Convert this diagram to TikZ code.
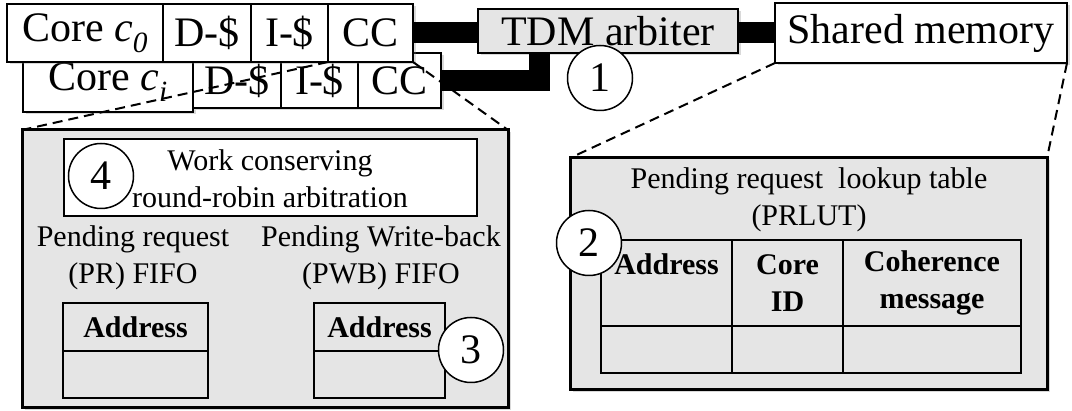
\documentclass[tikz,border=0pt]{standalone}
\usepackage{fontspec}
\setmainfont{Liberation Serif}
\usepackage{tikz}
\usetikzlibrary{positioning,calc,shadows}
\newcommand{\topsz}{\fontsize{42}{46}\selectfont}
\newcommand{\midsz}{\fontsize{30}{37}\selectfont}
\tikzset{shd/.style={drop shadow={shadow xshift=2.5pt, shadow yshift=-2.5pt, opacity=0.3}}}
\tikzset{blk/.style={draw, line width=2pt, fill=white, inner sep=0pt, outer sep=0pt, font=\topsz, shd}}
\tikzset{panel/.style={draw, line width=3pt, fill=black!10, inner sep=0pt, outer sep=0pt, shd}}
\tikzset{tcell/.style={draw, line width=1.5pt, inner sep=0pt, outer sep=0pt, align=center, font=\midsz\bfseries}}
\tikzset{lbl/.style={inner sep=0pt, align=center, font=\midsz}}
\tikzset{badge/.style={circle, draw, line width=1.5pt, fill=white, minimum size=65pt, inner sep=0pt, font=\topsz}}
\tikzset{bus/.style={draw, line width=21pt}}
\tikzset{zoomln/.style={draw, line width=2pt, dash pattern=on 10pt off 6pt}}

\begin{document}
\begin{tikzpicture}[x=1pt, y=-1pt]
	\useasboundingbox (0,0) rectangle (1072,411);
	% core c_i (behind)
	\node[blk, minimum width=170pt, minimum height=59pt] (corei) at (108,82.5) {Core \textit{c\textsubscript{i}}};
	\node[blk, minimum width=88pt, minimum height=55pt, anchor=north west] (dci) at (corei.north east) {D-\$};
	\node[blk, minimum width=77pt, minimum height=55pt, right=0pt of dci] (ici) {I-\$};
	\node[blk, minimum width=83pt, minimum height=55pt, right=0pt of ici] (cci) {CC};
	% core c_0
	\node[blk, minimum width=156pt, minimum height=58pt] (core0) at (85,33) {Core \textit{c\textsubscript{0}}};
	\node[blk, minimum width=88pt, minimum height=58pt, right=0pt of core0] (dc0) {D-\$};
	\node[blk, minimum width=77pt, minimum height=58pt, right=0pt of dc0] (ic0) {I-\$};
	\node[blk, minimum width=85pt, minimum height=58pt, right=0pt of ic0] (cc0) {CC};
	\node[blk, fill=black!10, minimum width=260pt, minimum height=44pt] (tdm) at (608,31) {TDM arbiter};
	\node[blk, minimum width=292pt, minimum height=60pt] (mem) at (921,33) {Shared memory};
	\draw[bus] (cc0.east) -- (cc0.east -| tdm.west);
	\draw[bus] (tdm.east |- mem.west) -- (mem.west);
	\coordinate (tap) at ($(tdm.south west)+(61,0)$);
	\draw[bus] (cci.east) -| (tap);
	\node[badge] (n1) at (600,78) {1};
	% zoomed views
	\node[panel, minimum width=486pt, minimum height=278pt] (ccbox) at (265,269) {};
	\node[panel, minimum width=477pt, minimum height=232pt] (lutbox) at (808.5,274) {};
	\draw[zoomln] (cc0.south west) -- (ccbox.north west);
	\draw[zoomln] (cc0.south east) -- (ccbox.north east);
	\draw[zoomln] (mem.south west) -- (lutbox.north west);
	\draw[zoomln] (mem.south east) -- (lutbox.north east);
	% cache controller
	\node[draw, line width=2pt, fill=white, inner sep=0pt, minimum width=413pt, minimum height=77pt] (wcrr) at (270.5,177.5) {};
	\node[badge] (n4) at (101,176) {4};
	\node[lbl] (wcrrtxt) at (270,178.5) {Work conserving\\round-robin arbitration};
	\node[lbl] (prlbl) at (133,257.5) {Pending request\\(PR) FIFO};
	\node[lbl] (pwblbl) at (381,257.5) {Pending Write-back\\(PWB) FIFO};
	\node[tcell, minimum width=145pt, minimum height=48pt] (prhead) at (135.5,327) {Address};
	\node[tcell, minimum width=145pt, minimum height=47pt, below=0pt of prhead] (prrow) {};
	\node[tcell, minimum width=131pt, minimum height=48pt] (pwbhead) at (379.5,327) {Address};
	\node[tcell, minimum width=131pt, minimum height=47pt, below=0pt of pwbhead] (pwbrow) {};
	\node[badge] (n3) at (471,350) {3};
	% lookup table
	\node[lbl] (lutlbl) at (809,200) {Pending request~ lookup table\\(PRLUT)};
	\node[tcell, minimum width=131pt, minimum height=86pt] (h1) at (666.5,283) {};
	\node[tcell, minimum width=111pt, minimum height=86pt, right=0pt of h1] (h2) {};
	\node[tcell, minimum width=178pt, minimum height=86pt, right=0pt of h2] (h3) {};
	\node[tcell, minimum width=131pt, minimum height=47pt, below=0pt of h1] (r1) {};
	\node[tcell, minimum width=111pt, minimum height=47pt, below=0pt of h2] (r2) {};
	\node[tcell, minimum width=178pt, minimum height=47pt, below=0pt of h3] (r3) {};
	\node[badge] (n2) at (589,243) {2};
	\node[lbl, font=\midsz\bfseries] (t1) at (h1) {Address\\\mbox{}};
	\node[lbl, font=\midsz\bfseries] (t2) at (h2) {Core\\ID};
	\node[lbl, font=\midsz\bfseries] (t3) at (h3) {Coherence\\message};
\end{tikzpicture}
\end{document}
